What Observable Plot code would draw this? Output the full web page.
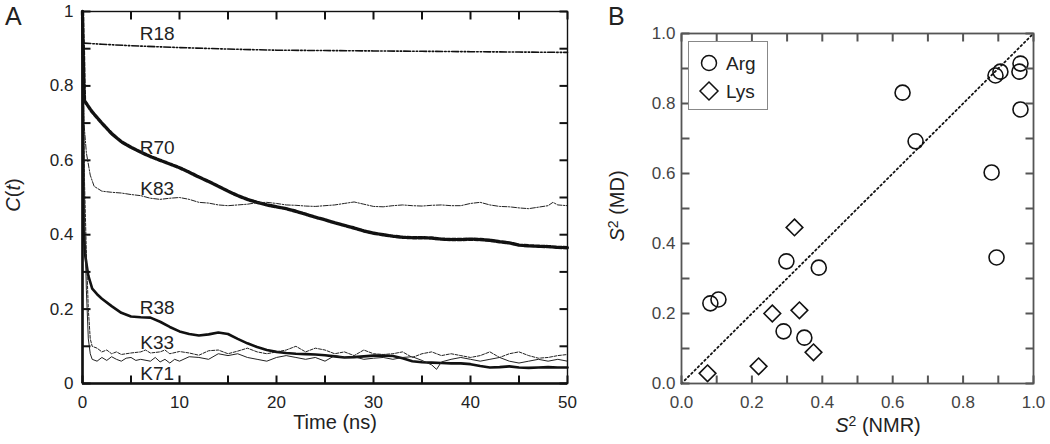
<!DOCTYPE html>
<html><head><meta charset="utf-8">
<script src="https://cdn.jsdelivr.net/npm/d3@7"></script>
<script src="https://cdn.jsdelivr.net/npm/@observablehq/plot@0.6"></script>
<style>
body{margin:0;background:#fff;font-family:"Liberation Sans",Arial,sans-serif;color:#222;}
#wrap{position:relative;width:1050px;height:444px;overflow:hidden;background:#fff;}
#a{position:absolute;left:0;top:0;}
#b{position:absolute;left:600px;top:0;}
.t{position:absolute;white-space:nowrap;line-height:1;}
.panel{font-size:25px;}
.ax{font-size:20px;}
#legend{position:absolute;left:688px;top:41px;width:78px;height:67px;border:1px solid #888;background:#fff;}
</style></head>
<body><div id="wrap"><div id="a"></div><div id="b"></div>
<div class="t panel" style="left:5px;top:4px;">A</div>
<div class="t panel" style="left:608px;top:4px;">B</div>
<div class="t ax" style="left:335px;top:412px;transform:translateX(-50%);">Time (ns)</div>
<div class="t ax" style="left:13px;top:195px;transform:translate(-50%,-50%) rotate(-90deg);"><i>C</i>(<i>t</i>)</div>
<div class="t ax" style="left:878px;top:414px;transform:translateX(-50%);"><i>S</i><span style="font-size:14px;vertical-align:6px;">2</span> (NMR)</div>
<div class="t ax" style="left:616px;top:206px;transform:translate(-50%,-50%) rotate(-90deg);"><i>S</i><span style="font-size:14px;vertical-align:6px;">2</span> (MD)</div>
<div id="legend">
<svg width="78" height="67" style="position:absolute;left:0;top:0;">
<circle cx="20" cy="21" r="7.5" fill="none" stroke="#111" stroke-width="1.5"/>
<path d="M20,40 L29,49 L20,58 L11,49 Z" fill="none" stroke="#111" stroke-width="1.5"/>
<text x="37" y="28" font-size="19" fill="#222" font-family="Liberation Sans, Arial, sans-serif">Arg</text>
<text x="37" y="56" font-size="19" fill="#222" font-family="Liberation Sans, Arial, sans-serif">Lys</text>
</svg></div>
</div>
<script>
// ---------- Panel A data: C(t) curves, [time ns, C(t)] ----------
const R18 = [[0,1],[0.1,0.915],[2,0.912],[5,0.908],[10,0.903],[15,0.899],[20,0.896],[25,0.895],[30,0.894],[35,0.893],[40,0.892],[45,0.891],[50,0.890]];
const R70 = [[0,1],[0.2,0.76],[1,0.73],[2,0.70],[3,0.672],[4,0.65],[5,0.635],[6,0.622],[7,0.61],[8,0.6],[9,0.59],[10,0.58],[11,0.568],[12,0.555],[13,0.543],[14,0.53],[15,0.517],[16,0.505],[17,0.495],[18,0.487],[19,0.48],[20,0.475],[21,0.47],[22,0.463],[23,0.455],[24,0.447],[25,0.44],[26,0.432],[27,0.425],[28,0.418],[29,0.41],[30,0.404],[31,0.4],[32,0.396],[33,0.393],[34,0.392],[35,0.392],[36,0.391],[37,0.388],[38,0.387],[39,0.387],[40,0.388],[41,0.387],[42,0.385],[43,0.381],[44,0.378],[45,0.372],[46,0.37],[47,0.369],[48,0.368],[49,0.366],[50,0.365]];
const K83 = [[0,1],[0.15,0.70],[0.4,0.62],[0.8,0.56],[1.2,0.53],[2,0.517],[3,0.514],[4,0.512],[5,0.508],[6,0.505],[7,0.498],[8,0.495],[9,0.498],[10,0.50],[11,0.495],[12,0.487],[13,0.485],[14,0.48],[15,0.478],[16,0.48],[17,0.482],[18,0.486],[19,0.487],[20,0.484],[21,0.48],[22,0.479],[23,0.477],[24,0.476],[25,0.478],[26,0.48],[27,0.484],[28,0.488],[29,0.482],[30,0.476],[31,0.475],[32,0.478],[33,0.48],[34,0.478],[35,0.477],[36,0.479],[37,0.48],[38,0.478],[39,0.478],[40,0.484],[41,0.487],[42,0.48],[43,0.476],[44,0.475],[45,0.472],[46,0.47],[47,0.474],[48,0.478],[48.5,0.487],[49,0.48],[50,0.478]];
const R38 = [[0,1],[0.1,0.42],[0.3,0.34],[0.6,0.29],[1,0.255],[1.5,0.24],[2,0.228],[3,0.208],[4,0.19],[5,0.18],[6,0.178],[7,0.177],[8,0.166],[9,0.152],[10,0.14],[11,0.133],[12,0.129],[13,0.132],[14,0.137],[15,0.133],[16,0.12],[17,0.108],[18,0.098],[19,0.09],[20,0.085],[21,0.082],[22,0.08],[23,0.079],[24,0.078],[25,0.076],[26,0.073],[27,0.07],[28,0.071],[29,0.073],[30,0.075],[31,0.075],[32,0.074],[33,0.068],[34,0.06],[35,0.057],[36,0.056],[37,0.055],[38,0.054],[39,0.054],[40,0.052],[41,0.047],[42,0.043],[43,0.044],[44,0.046],[45,0.043],[46,0.042],[47,0.043],[48,0.044],[49,0.043],[50,0.043]];
const K33 = [[0,1],[0.2,0.55],[0.4,0.35],[0.6,0.2],[0.8,0.12],[1,0.1],[1.5,0.095],[2,0.085],[2.5,0.09],[3,0.08],[3.5,0.085],[4,0.078],[5,0.082],[6,0.085],[6.5,0.09],[7,0.082],[8,0.085],[8.5,0.09],[9,0.08],[10,0.086],[11,0.082],[12,0.076],[13,0.088],[14,0.09],[15,0.08],[16,0.087],[17,0.095],[18,0.085],[19,0.08],[20,0.085],[21,0.09],[22,0.1],[23,0.085],[24,0.095],[25,0.09],[26,0.08],[27,0.085],[28,0.075],[29,0.09],[30,0.08],[31,0.078],[32,0.08],[33,0.085],[34,0.07],[35,0.08],[36,0.085],[37,0.075],[38,0.08],[39,0.075],[40,0.07],[41,0.075],[42,0.085],[43,0.07],[44,0.08],[45,0.085],[46,0.075],[47,0.068],[48,0.07],[49,0.075],[50,0.078]];
const K71 = [[0,1],[0.2,0.45],[0.4,0.25],[0.6,0.12],[0.8,0.08],[1,0.065],[1.5,0.06],[2,0.07],[2.5,0.062],[3,0.072],[3.5,0.065],[4,0.06],[4.5,0.068],[5,0.07],[5.5,0.062],[6,0.065],[7,0.06],[7.5,0.07],[8,0.058],[8.5,0.065],[9,0.055],[9.5,0.065],[10,0.06],[11,0.072],[12,0.07],[13,0.065],[14,0.08],[15,0.075],[16,0.08],[17,0.07],[18,0.065],[19,0.06],[20,0.07],[21,0.075],[22,0.07],[23,0.065],[24,0.07],[25,0.06],[26,0.075],[27,0.07],[28,0.072],[29,0.065],[30,0.068],[31,0.07],[32,0.065],[33,0.07],[34,0.072],[35,0.062],[36,0.05],[36.5,0.038],[37,0.058],[38,0.065],[39,0.07],[40,0.065],[41,0.06],[42,0.065],[43,0.07],[44,0.06],[45,0.055],[46,0.06],[47,0.065],[48,0.06],[49,0.065],[50,0.06]];
const curveNames = ["R18","R70","K83","R38","K33","K71"];
const curveLabels = [["R18",7.7,0.941],["R70",7.7,0.634],["K83",7.7,0.524],["R38",7.7,0.202],["K33",7.7,0.11],["K71",7.7,0.027]];
const aXLabels = [0,10,20,30,40,50];
const aXMinor = [0,5,10,15,20,25,30,35,40,45,50];
const aYLabels = [0,0.2,0.4,0.6,0.8,1];
const aYMinor = [0,0.1,0.2,0.3,0.4,0.5,0.6,0.7,0.8,0.9,1];

// ---------- Panel B data: order parameters ----------
const argNMR = [0.082,0.105,0.298,0.39,0.29,0.349,0.628,0.665,0.881,0.895,0.892,0.906,0.963,0.96,0.963];
const argMD  = [0.229,0.24,0.349,0.331,0.149,0.131,0.831,0.692,0.603,0.36,0.88,0.891,0.914,0.891,0.783];
const lysNMR = [0.321,0.258,0.335,0.375,0.219,0.074];
const lysMD  = [0.446,0.2,0.209,0.089,0.049,0.029];
const bLabels = [0,0.2,0.4,0.6,0.8,1.0];
const bMinor = [0,0.1,0.2,0.3,0.4,0.5,0.6,0.7,0.8,0.9,1.0];
const diag = [0,1];

const styles = {
  R18:{stroke:"#111",strokeWidth:1.6,strokeDasharray:"7,2,1.5,2,1.5,2"},
  R70:{stroke:"#111",strokeWidth:3.4,strokeDasharray:"4,1.6"},
  K83:{stroke:"#222",strokeWidth:1,strokeDasharray:"5,1.5,1.5,1.5"},
  R38:{stroke:"#111",strokeWidth:2.6},
  K33:{stroke:"#222",strokeWidth:1,strokeDasharray:"3,1.5"},
  K71:{stroke:"#222",strokeWidth:1}
};
const curves = {R18,R70,K83,R38,K33,K71};
const table = curveNames.flatMap(n => curves[n].map(([t,v]) => ({name:n,t,v})));
const labelData = curveLabels.map(([text,t,v]) => ({text,t,v}));

// inward tick marks as short links; length converted from pixels to data units
function inwardTicks(xs, ys, xd, yd, W, H, len, stroke) {
  const kx = (xd[1]-xd[0]) * len / W, ky = (yd[1]-yd[0]) * len / H;
  const o = {stroke, strokeWidth:2};
  return [
    Plot.link(xs, {x1:d=>d, x2:d=>d, y1:()=>yd[0], y2:()=>yd[0]+ky, ...o}),
    Plot.link(xs, {x1:d=>d, x2:d=>d, y1:()=>yd[1], y2:()=>yd[1]-ky, ...o}),
    Plot.link(ys, {y1:d=>d, y2:d=>d, x1:()=>xd[0], x2:()=>xd[0]+kx, ...o}),
    Plot.link(ys, {y1:d=>d, y2:d=>d, x1:()=>xd[1], x2:()=>xd[1]-kx, ...o})
  ];
}

const A = {w:600, h:444, l:82, r:33, t:11, b:61, xd:[0,50], yd:[0,1]};
const fmtA = d => String(+d.toFixed(1));
const plotA = Plot.plot({
  width:A.w, height:A.h,
  marginLeft:A.l, marginRight:A.r, marginTop:A.t, marginBottom:A.b,
  x:{domain:A.xd}, y:{domain:A.yd},
  style:{fontFamily:"Liberation Sans, Arial, sans-serif", fontSize:"17px", color:"#222", background:"transparent", overflow:"visible"},
  marks:[
    ...curveNames.map(n => Plot.line(table.filter(d=>d.name===n), {x:"t", y:"v", ...styles[n], strokeLinejoin:"round"})),
    Plot.text(labelData, {x:"t", y:"v", text:"text", fontSize:19, fill:"#222"}),
    Plot.frame({stroke:"#111", strokeWidth:1.4}),
    Plot.ruleX([0], {stroke:"#111", strokeWidth:2.6}),
    Plot.ruleY([0], {stroke:"#111", strokeWidth:2.6}),
    ...inwardTicks(aXMinor, aYMinor, A.xd, A.yd, A.w-A.l-A.r, A.h-A.t-A.b, 8, "#111"),
    Plot.axisX(aXLabels, {anchor:"bottom", tickSize:0, tickPadding:12, label:null, fill:"#222"}),
    Plot.axisY(aYLabels, {anchor:"left", tickSize:0, tickPadding:9, label:null, tickFormat:fmtA, fill:"#222"})
  ]
});
document.getElementById("a").appendChild(plotA);

const B = {w:450, h:444, l:81, r:17, t:33, b:61, xd:[0,1], yd:[0,1]};
const fmtB = d3.format(".1f");
const plotB = Plot.plot({
  width:B.w, height:B.h,
  marginLeft:B.l, marginRight:B.r, marginTop:B.t, marginBottom:B.b,
  x:{domain:B.xd}, y:{domain:B.yd},
  style:{fontFamily:"Liberation Sans, Arial, sans-serif", fontSize:"17px", color:"#444", background:"transparent", overflow:"visible"},
  marks:[
    Plot.line(diag, {x:d=>d, y:d=>d, stroke:"#111", strokeWidth:1.8, strokeDasharray:"1.6,3"}),
    Plot.dot(argNMR.map((x,i)=>({x,y:argMD[i]})), {x:"x", y:"y", r:7.5, stroke:"#111", strokeWidth:1.6, fill:"none"}),
    Plot.dot(lysNMR.map((x,i)=>({x,y:lysMD[i]})), {x:"x", y:"y", r:7.5, symbol:"diamond2", stroke:"#111", strokeWidth:1.6, fill:"none"}),
    Plot.frame({stroke:"#555", strokeWidth:1.8}),
    ...inwardTicks(bMinor, bMinor, B.xd, B.yd, B.w-B.l-B.r, B.h-B.t-B.b, 8, "#555"),
    Plot.axisX(bLabels, {anchor:"bottom", tickSize:0, tickPadding:12, label:null, tickFormat:fmtB, fill:"#444"}),
    Plot.axisY(bLabels, {anchor:"left", tickSize:0, tickPadding:6, label:null, tickFormat:fmtB, fill:"#444"})
  ]
});
document.getElementById("b").appendChild(plotB);
</script>
</body></html>
